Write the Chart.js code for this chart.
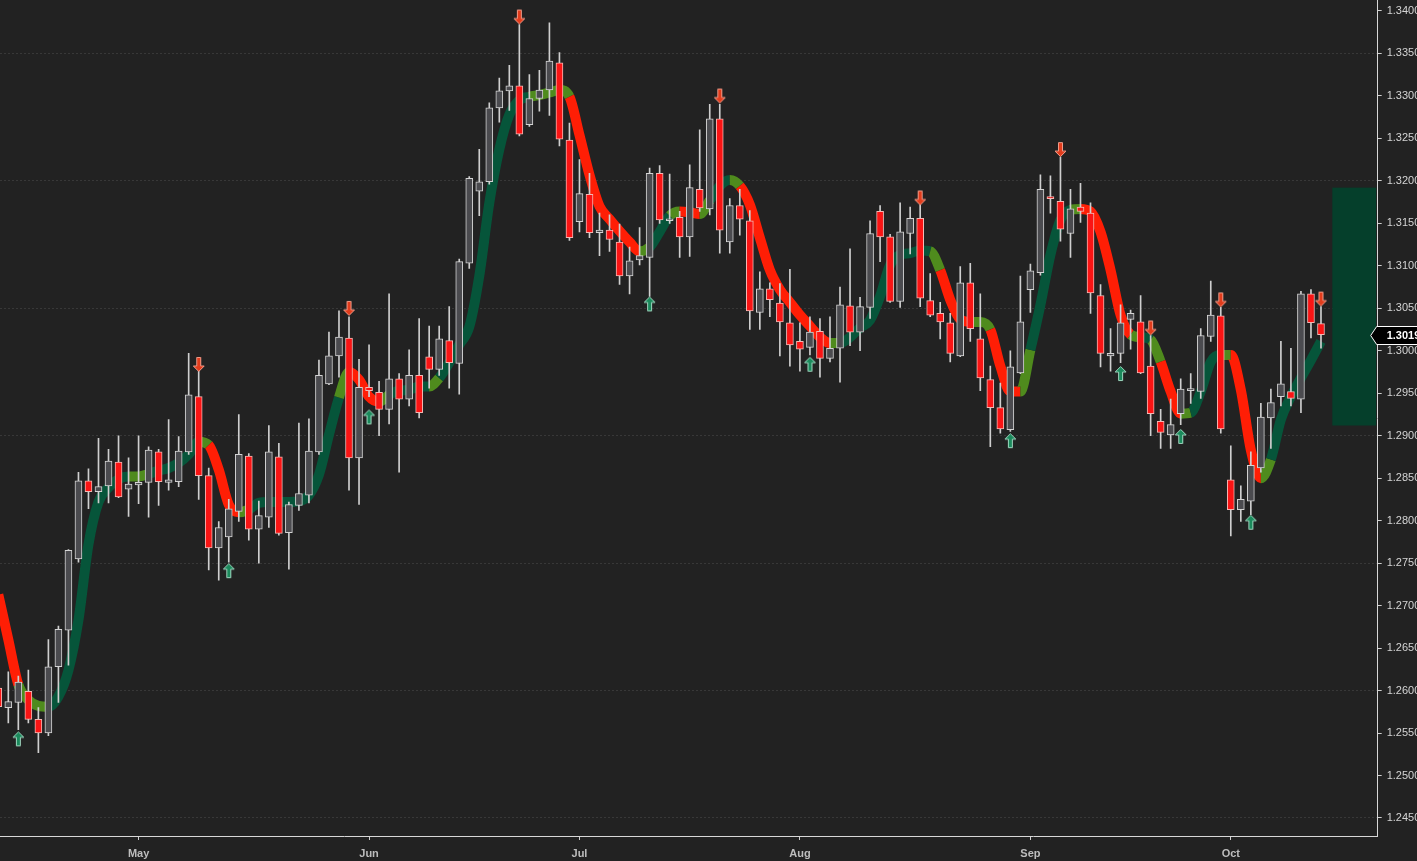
<!DOCTYPE html>
<html>
<head>
<meta charset="utf-8">
<script src="https://cdn.jsdelivr.net/npm/chart.js@4.4.0/dist/chart.umd.min.js"></script>
<style>
html,body{margin:0;padding:0;background:#222222;overflow:hidden}
#wrap{position:relative;width:1417px;height:861px}
</style>
</head>
<body>
<div id="wrap"><canvas id="c"></canvas></div>
<script>
// ---- DATA ----
const opens=[1.2603,1.2580,1.2586,1.2599,1.2566,1.2550,1.2628,1.2671,1.2755,1.2847,
1.2834,1.2841,1.2869,1.2837,1.2842,1.2845,1.2881,1.2845,1.2846,1.2881,
1.2946,1.2853,1.2768,1.2781,1.2811,1.2876,1.2790,1.2804,1.2875,1.2786,
1.2818,1.2830,1.2881,1.2961,1.2994,1.3015,1.2874,1.2957,1.2951,1.2931,
1.2967,1.2943,1.2971,1.2993,1.2978,1.3012,1.2985,1.3103,1.3188,1.3199,
1.3286,1.3306,1.3312,1.3266,1.3297,1.3307,1.3339,1.3248,1.3152,1.3184,
1.3139,1.3142,1.3128,1.3088,1.3107,1.3110,1.3209,1.3153,1.3157,1.3134,
1.3190,1.3167,1.3273,1.3128,1.3171,1.3153,1.3045,1.3073,1.3056,1.3033,
1.3011,1.3004,1.3023,1.2991,1.3003,1.3053,1.3022,1.3051,1.3164,1.3134,
1.3058,1.3138,1.3156,1.3059,1.3044,1.3033,1.2994,1.3080,1.3014,1.2966,
1.2933,1.2907,1.2974,1.3072,1.3092,1.3181,1.3176,1.3138,1.3169,1.3162,
1.3065,1.2994,1.2997,1.3037,1.3034,1.2982,1.2917,1.2901,1.2926,1.2953,
1.2952,1.3017,1.3041,1.2848,1.2813,1.2823,1.2862,1.2921,1.2946,1.2952,
1.2943,1.3067,1.3032];
const highs=[1.2612,1.2622,1.2617,1.2624,1.2580,1.2660,1.2676,1.2766,1.2857,1.2861,
1.2897,1.2884,1.2900,1.2874,1.2900,1.2887,1.2884,1.2919,1.2899,1.2997,
1.2976,1.2862,1.2799,1.2825,1.2925,1.2879,1.2823,1.2912,1.2891,1.2822,
1.2915,1.2920,1.2989,1.3022,1.3047,1.3040,1.2990,1.3007,1.2964,1.3067,
1.2973,1.3001,1.3038,1.3029,1.3029,1.3052,1.3108,1.3205,1.3237,1.3292,
1.3321,1.3336,1.3384,1.3325,1.3330,1.3386,1.3351,1.3268,1.3225,1.3209,
1.3162,1.3160,1.3149,1.3122,1.3145,1.3215,1.3218,1.3208,1.3164,1.3219,
1.3260,1.3290,1.3290,1.3179,1.3190,1.3165,1.3093,1.3080,1.3079,1.3096,
1.3033,1.3040,1.3038,1.3040,1.3075,1.3120,1.3063,1.3153,1.3171,1.3137,
1.3174,1.3169,1.3172,1.3091,1.3057,1.3044,1.3099,1.3103,1.3067,1.2982,
1.2962,1.3000,1.3088,1.3102,1.3207,1.3206,1.3228,1.3190,1.3197,1.3174,
1.3078,1.3026,1.3054,1.3048,1.3065,1.3018,1.2931,1.2943,1.2967,1.2973,
1.3026,1.3082,1.3051,1.2888,1.2841,1.2881,1.2938,1.2955,1.3011,1.3003,
1.3070,1.3072,1.3052];
const lows=[1.2572,1.2562,1.2554,1.2562,1.2527,1.2547,1.2586,1.2630,1.2751,1.2814,
1.2821,1.2821,1.2827,1.2805,1.2820,1.2804,1.2818,1.2836,1.2840,1.2878,
1.2825,1.2742,1.2730,1.2751,1.2799,1.2777,1.2750,1.2792,1.2783,1.2743,
1.2812,1.2821,1.2878,1.2960,1.2969,1.2836,1.2819,1.2946,1.2900,1.2914,
1.2857,1.2935,1.2921,1.2956,1.2971,1.2956,1.2949,1.3097,1.3159,1.3196,
1.3269,1.3283,1.3253,1.3264,1.3282,1.3277,1.3241,1.3130,1.3140,1.3133,
1.3112,1.3117,1.3078,1.3067,1.3101,1.3064,1.3150,1.3150,1.3110,1.3111,
1.3164,1.3160,1.3115,1.3115,1.3136,1.3025,1.3025,1.3040,1.2994,1.2982,
1.2976,1.2995,1.2969,1.2987,1.2963,1.3006,1.3000,1.3038,1.3105,1.3057,
1.3051,1.3114,1.3052,1.3040,1.3014,1.2987,1.2993,1.3011,1.2953,1.2887,
1.2903,1.2905,1.2973,1.3045,1.3089,1.3162,1.3129,1.3110,1.3151,1.3044,
1.2981,1.2976,1.2986,1.3002,1.2973,1.2900,1.2885,1.2885,1.2913,1.2938,
1.2944,1.3011,1.2903,1.2782,1.2799,1.2807,1.2857,1.2885,1.2935,1.2935,
1.2927,1.3015,1.3003];
const closes=[1.2581,1.2587,1.2610,1.2566,1.2550,1.2628,1.2672,1.2765,1.2847,1.2834,
1.2840,1.2870,1.2828,1.2843,1.2845,1.2883,1.2846,1.2848,1.2882,1.2948,
1.2853,1.2768,1.2792,1.2814,1.2878,1.2790,1.2806,1.2881,1.2785,1.2819,
1.2832,1.2882,1.2971,1.2994,1.3016,1.2874,1.2957,1.2953,1.2931,1.2967,
1.2943,1.2971,1.2927,1.2978,1.3014,1.2986,1.3105,1.3203,1.3199,1.3286,
1.3306,1.3312,1.3255,1.3297,1.3307,1.3341,1.3249,1.3133,1.3185,1.3139,
1.3142,1.3131,1.3088,1.3106,1.3112,1.3209,1.3154,1.3155,1.3134,1.3192,
1.3168,1.3273,1.3142,1.3171,1.3155,1.3047,1.3073,1.3060,1.3034,1.3007,
1.3002,1.3022,1.2991,1.3003,1.3054,1.3022,1.3052,1.3138,1.3134,1.3058,
1.3140,1.3156,1.3062,1.3042,1.3034,1.2997,1.3080,1.3026,1.2968,1.2933,
1.2908,1.2981,1.3034,1.3094,1.3190,1.3179,1.3143,1.3167,1.3164,1.3068,
1.2997,1.2997,1.3033,1.3044,1.2974,1.2926,1.2904,1.2913,1.2955,1.2955,
1.3018,1.3042,1.2908,1.2813,1.2825,1.2865,1.2922,1.2939,1.2961,1.2944,
1.3067,1.3033,1.3019];
const maValues=[1.2713,1.2660,1.2607,1.2589,1.2582,1.2581,1.2593,1.2624,1.2683,1.2772,
1.2822,1.2839,1.2849,1.2852,1.2852,1.2855,1.2859,1.2862,1.2868,1.2878,
1.2893,1.2889,1.2860,1.2819,1.2810,1.2813,1.2821,1.2822,1.2822,1.2822,
1.2823,1.2830,1.2854,1.2901,1.2945,1.2975,1.2966,1.2946,1.2940,1.2948,
1.2953,1.2954,1.2958,1.2958,1.2968,1.2986,1.3007,1.3028,1.3088,1.3174,
1.3237,1.3278,1.3295,1.3299,1.3301,1.3304,1.3307,1.3299,1.3254,1.3207,
1.3170,1.3155,1.3141,1.3128,1.3117,1.3122,1.3140,1.3159,1.3164,1.3163,
1.3161,1.3177,1.3194,1.3201,1.3194,1.3172,1.3133,1.3095,1.3072,1.3057,
1.3042,1.3029,1.3016,1.3009,1.3009,1.3016,1.3027,1.3036,1.3064,1.3101,
1.3113,1.3115,1.3118,1.3117,1.3095,1.3060,1.3037,1.3034,1.3034,1.3025,
1.2982,1.2952,1.2952,1.3001,1.3054,1.3113,1.3154,1.3166,1.3167,1.3164,
1.3140,1.3095,1.3042,1.3019,1.3016,1.3013,1.2987,1.2952,1.2926,1.2927,
1.2952,1.2987,1.2995,1.2995,1.2954,1.2883,1.2850,1.2872,1.2919,1.2946,
1.2968,1.2989,1.3011];
// trend of the MA segment starting at each point: u = rising, d = falling, o = turning
const maTrend=['d','d','o','o','o','u','u','u','u','u',
'u','u','u','o','o','u','u','u','u','u',
'o','d','d','d','o','u','u','u','u','u',
'u','u','u','u','o','d','d','d','o','u',
'u','u','u','o','u','u','u','u','u','u',
'u','u','u','o','o','o','o','d','d','d',
'd','d','d','d','o','u','u','o','d','d',
'o','u','u','o','d','d','d','d','d','d',
'd','d','d','o','u','u','u','u','u','u',
'u','u','u','o','d','d','d','o','o','d',
'd','d','o','u','u','u','u','o','d','d',
'd','d','d','o','u','o','d','d','o','u',
'u','u','o','d','d','d','o','u','u','u',
'u','u','u'];
const upArrowIdx=[2,23,37,65,81,101,112,118,125];
const upArrowPrice=[1.2552,1.2750,1.2931,1.3064,1.2993,1.2903,1.2982,1.2908,1.2807];
const downArrowIdx=[20,35,52,72,92,106,115,122,132];
const downArrowPrice=[1.2975,1.3041,1.3384,1.3291,1.3171,1.3228,1.3018,1.3051,1.3052];
const boxIdx=[133.13,137.5];
const boxPrice=[1.2912,1.3192];
const monthTickIdx=[14,37,58,80,103,123];
const monthLabels=['May','Jun','Jul','Aug','Sep','Oct'];
const yTicks=[1.2450,1.2500,1.2550,1.2600,1.2650,1.2700,1.2750,1.2800,1.2850,1.2900,
1.2950,1.3000,1.3050,1.3100,1.3150,1.3200,1.3250,1.3300,1.3350,1.3400];
const gridValues=[1.2450,1.2600,1.2750,1.2900,1.3050,1.3200,1.3350];
const xRange=[0.17,137.66];
const yRange=[1.24288,1.34129];

// ---- STYLE ----
const UP_FILL='#4b4b4f', DOWN_FILL='#fa1414', UP_EDGE='#d4d4d4', DOWN_EDGE='#f4b8b4', WICK='#cfcfcf';
const MA_COL={u:'#06553a', d:'#ff1e05', o:'#4f8b1d'};
const FONT='"Liberation Sans", Arial, sans-serif';

function arrowCanvas(dir){
  const c=document.createElement('canvas'); c.width=13; c.height=32;
  const g=c.getContext('2d');
  g.beginPath();
  if(dir==='down'){
    g.moveTo(4.5,1.5); g.lineTo(8.5,1.5); g.lineTo(8.5,10); g.lineTo(12,10);
    g.lineTo(6.5,15.5); g.lineTo(1,10); g.lineTo(4.5,10);
  } else {
    g.moveTo(6.5,16.5); g.lineTo(12,22); g.lineTo(8.5,22); g.lineTo(8.5,30.5);
    g.lineTo(4.5,30.5); g.lineTo(4.5,22); g.lineTo(1,22);
  }
  g.closePath();
  g.fillStyle= dir==='down' ? '#e23c1c' : '#1b8a5c';
  g.fill();
  g.lineWidth=1;
  g.strokeStyle= dir==='down' ? '#f09a88' : '#9fd6bf';
  g.stroke();
  return c;
}
const downImg=arrowCanvas('down'), upImg=arrowCanvas('up');

const idx=opens.map((_,i)=>i);
const isUp=i=>closes[i]>=opens[i];
const onGrid=v=>gridValues.some(g=>Math.abs(g-v)<1e-7);
const noPad=s=>{s.paddingTop=0;s.paddingBottom=0;s.paddingLeft=0;s.paddingRight=0;};

const rangeBox={id:'rangeBox',beforeDatasetsDraw(chart){
  const {ctx,scales:{x,y},chartArea}=chart;
  const x1=x.getPixelForValue(boxIdx[0]), x2=x.getPixelForValue(boxIdx[1]);
  const y1=y.getPixelForValue(boxPrice[1]), y2=y.getPixelForValue(boxPrice[0]);
  ctx.save(); ctx.fillStyle='#053f2b'; ctx.fillRect(x1,y1,Math.min(x2,chartArea.right)-x1,y2-y1); ctx.restore();
}};
const priceTag={id:'priceTag',afterDraw(chart){
  const {ctx,scales:{y},chartArea}=chart;
  const v=closes[closes.length-1];
  const py=Math.round(y.getPixelForValue(v))+0.5;
  const r=chartArea.right;
  ctx.save();
  ctx.beginPath();
  ctx.moveTo(r-7,py); ctx.lineTo(r-1,py-9); ctx.lineTo(chart.width+2,py-9);
  ctx.lineTo(chart.width+2,py+9); ctx.lineTo(r-1,py+9); ctx.closePath();
  ctx.fillStyle='#000000'; ctx.fill();
  ctx.strokeStyle='#ffffff'; ctx.lineWidth=1; ctx.stroke();
  ctx.fillStyle='#ffffff'; ctx.font='bold 11px '+FONT; ctx.textBaseline='middle'; ctx.textAlign='left';
  ctx.fillText(v.toFixed(4), r+9, py+0.5);
  ctx.restore();
}};

new Chart(document.getElementById('c'),{
  type:'bar',
  data:{datasets:[
    {type:'line',data:idx.map(i=>({x:i,y:maValues[i]})),borderWidth:10,pointRadius:0,
     cubicInterpolationMode:'monotone',borderColor:MA_COL.u,borderJoinStyle:'round',
     segment:{borderColor:c=>MA_COL[maTrend[c.p0DataIndex]]},order:4},
    {type:'bar',data:idx.map(i=>({x:i,y:[lows[i],highs[i]]})),backgroundColor:WICK,
     barThickness:1,grouped:false,borderWidth:0,order:3},
    {type:'bar',data:idx.map(i=>({x:i,y:[opens[i],closes[i]]})),
     backgroundColor:c=>isUp(c.dataIndex)?UP_FILL:DOWN_FILL,
     borderColor:c=>isUp(c.dataIndex)?UP_EDGE:DOWN_EDGE,
     borderWidth:1,borderSkipped:false,barThickness:7,grouped:false,minBarLength:2,order:2},
    {type:'scatter',data:upArrowIdx.map((v,k)=>({x:v,y:upArrowPrice[k]})),pointStyle:upImg,pointRadius:5,order:1},
    {type:'scatter',data:downArrowIdx.map((v,k)=>({x:v,y:downArrowPrice[k]})),pointStyle:downImg,pointRadius:5,order:1}
  ]},
  options:{
    responsive:true,maintainAspectRatio:false,animation:false,events:[],
    layout:{padding:0,autoPadding:false},
    plugins:{legend:{display:false},tooltip:{enabled:false}},
    scales:{
      x:{type:'linear',position:'bottom',min:xRange[0],max:xRange[1],offset:false,
        afterBuildTicks:s=>{s.ticks=monthTickIdx.map(v=>({value:v}));},
        afterFit:s=>{s.height=25;noPad(s);},
        ticks:{autoSkip:false,maxRotation:0,color:'#bdbdbd',padding:7,
          font:{family:FONT,size:11,weight:'bold'},
          callback:v=>monthLabels[monthTickIdx.indexOf(v)]},
        grid:{drawOnChartArea:false,drawTicks:true,tickLength:4,tickColor:'#cfcfcf',offset:false},
        border:{color:'#d8d8d8',width:1}},
      y:{type:'linear',position:'right',min:yRange[0],max:yRange[1],
        afterBuildTicks:s=>{s.ticks=yTicks.map(v=>({value:v}));},
        afterFit:s=>{s.width=39.3;noPad(s);},
        ticks:{autoSkip:false,color:'#d4d4d4',padding:5,font:{family:FONT,size:11},
          callback:v=>Number(v).toFixed(4)},
        grid:{color:c=>(c.tick&&onGrid(c.tick.value))?'rgba(255,255,255,0.10)':'rgba(0,0,0,0)',
          lineWidth:1,tickLength:4,tickColor:'#cfcfcf'},
        border:{color:'#d8d8d8',width:1,dash:[2,2]}}
    }
  },
  plugins:[rangeBox,priceTag]
});
</script>
</body>
</html>
